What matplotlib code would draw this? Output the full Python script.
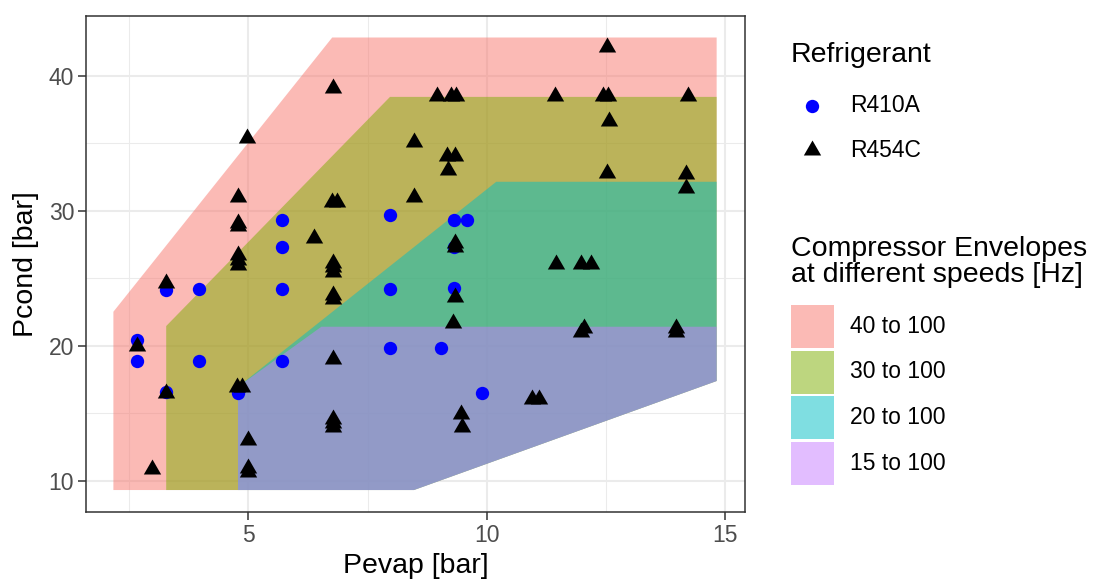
import matplotlib
matplotlib.use("Agg")
import matplotlib.pyplot as plt
from matplotlib.patches import Rectangle
from matplotlib.lines import Line2D
import numpy as np

plt.rcParams['font.family'] = ['Liberation Sans', 'DejaVu Sans']

r410a_evap = [2.67, 2.67, 3.27, 3.27, 3.97, 3.97, 4.78, 5.71, 5.71, 5.71, 5.71,
              7.96, 7.96, 7.96, 9.05, 9.31, 9.59, 9.31, 9.31, 9.91]
r410a_cond = [20.42, 18.87, 24.1, 16.55, 24.2, 18.87, 16.47, 29.31, 27.33, 24.2, 18.87,
              29.68, 24.2, 19.85, 19.85, 29.31, 29.31, 27.3, 24.25, 16.52]

r454c_evap = [2.65, 2.98, 3.27, 3.27, 4.75, 4.87, 4.78, 4.78, 4.78, 4.78, 4.78, 4.78,
              4.97, 4.98, 4.98, 4.98, 6.38, 6.75, 6.85, 6.78, 6.77, 6.77, 6.77, 6.77,
              6.77, 6.77, 6.77, 6.77, 6.77, 8.47, 8.47, 8.96, 9.24, 9.35, 9.17, 9.33,
              9.19, 9.33, 9.33, 9.33, 9.29, 9.45, 9.49, 10.96, 11.1, 11.43, 11.45, 11.98,
              12.19, 12.05, 11.98, 12.44, 12.54, 12.53, 12.56, 12.53, 13.98, 13.98, 14.23,
              14.19, 14.19]
r454c_cond = [20.0, 10.84, 24.62, 16.5, 16.96, 16.96, 31.0, 29.1, 28.87, 26.72, 26.35, 25.98,
              35.4, 12.99, 10.92, 10.67, 28.0, 30.67, 30.67, 39.1, 26.1, 25.8, 25.48, 23.76,
              23.44, 18.99, 14.6, 14.3, 14.0, 35.07, 31.0, 38.47, 38.47, 38.47, 34.07, 34.07,
              33.04, 27.63, 27.33, 23.63, 21.66, 14.96, 13.95, 16.03, 16.03, 38.47, 26.04, 26.04,
              26.04, 21.31, 21.01, 38.47, 38.47, 42.1, 36.62, 32.79, 21.3, 21.05, 38.47,
              32.7, 31.7]

# compressor envelopes (evap, cond vertices)
env_labels = ['40 to 100', '30 to 100', '20 to 100', '15 to 100']
env_colors = ['#F8766D', '#7CAE00', '#00BFC4', '#C77CFF']
env40_evap = [2.165, 2.165, 6.757, 14.825, 14.825, 8.47]
env40_cond = [9.31, 22.52, 42.84, 42.84, 17.39, 9.31]
env30_evap = [3.273, 3.273, 7.97, 14.825, 14.825, 8.47]
env30_cond = [9.31, 21.46, 38.44, 38.44, 17.39, 9.31]
env20_evap = [4.78, 4.78, 10.2, 14.825, 14.825, 8.47]
env20_cond = [9.31, 16.96, 32.15, 32.15, 17.39, 9.31]
env15_evap = [4.78, 4.78, 6.53, 14.825, 14.825, 8.47]
env15_cond = [9.31, 16.96, 21.41, 21.41, 17.39, 9.31]

# R style filled triangle (centroid at centre)
tri = [(0, 1.5551), (1.3468, -0.7776), (-1.3468, -0.7776), (0, 1.5551)]

fig = plt.figure(figsize=(10.96, 5.81), dpi=100)
ax = fig.add_axes([86/1096, 1-512.3/581, (745-86)/1096, (512.3-15.5)/581])

envs = [(env40_evap, env40_cond), (env30_evap, env30_cond),
        (env20_evap, env20_cond), (env15_evap, env15_cond)]
for (ex, ey), c in zip(envs, env_colors):
    ax.fill(ex, ey, color=c, alpha=0.5, lw=0, zorder=2)

ax.scatter(r410a_evap, r410a_cond, s=9.6**2, c='blue', marker='o', lw=0, zorder=3)
ax.scatter(r454c_evap, r454c_cond, s=14.4**2, c='black', marker=tri, lw=0, zorder=3)

ax.set_xlim(1.59, 15.42)
ax.set_ylim(7.66, 44.47)
ax.set_xticks([5, 10, 15])
ax.set_yticks([10, 20, 30, 40])
ax.set_xticks([2.5, 7.5, 12.5], minor=True)
ax.set_yticks([15, 25, 35], minor=True)
ax.grid(which='major', color='#EBEBEB', lw=1.45, zorder=0)
ax.grid(which='minor', color='#EBEBEB', lw=0.75, zorder=0)
ax.set_axisbelow(True)
for s in ax.spines.values():
    s.set_color('#333333')
    s.set_linewidth(1.1)
ax.tick_params(which='major', length=5.5, width=1.1, color='#333333',
               labelsize=16.5, labelcolor='#4D4D4D', pad=3)
ax.tick_params(which='minor', length=0)
ax.set_xlabel('Pevap [bar]', fontsize=20.5, labelpad=4)
ax.set_ylabel('Pcond [bar]', fontsize=20.5, labelpad=7)

# legends
def fx(px):
    return px / 1096

def fy(py):
    return 1 - py / 581

fig.text(fx(791), fy(55), 'Refrigerant', fontsize=20.5, va='center', ha='left')
fig.add_artist(Line2D([fx(812.3)], [fy(106)], marker='o', color='blue', ms=9.6, lw=0, mew=0))
fig.add_artist(Line2D([fx(812.3)], [fy(150)], marker=tri, color='black', ms=14.4, lw=0, mew=0))
fig.text(fx(850), fy(106), 'R410A', fontsize=16.5, va='center', ha='left')
fig.text(fx(850), fy(150), 'R454C', fontsize=16.5, va='center', ha='left')

fig.text(fx(791), fy(262), 'Compressor Envelopes\nat different speeds [Hz]', fontsize=20.5,
         va='center', ha='left', linespacing=1.0)
box_tops = [305, 350.5, 396, 441.5]
for top, c, lab in zip(box_tops, env_colors, env_labels):
    fig.add_artist(Rectangle((fx(791), fy(top + 43)), fx(43), 43/581,
                             facecolor=c, alpha=0.5, lw=0))
    fig.text(fx(850), fy(top + 21.5), lab, fontsize=16.5, va='center', ha='left')

fig.savefig('out.png', dpi=100)
